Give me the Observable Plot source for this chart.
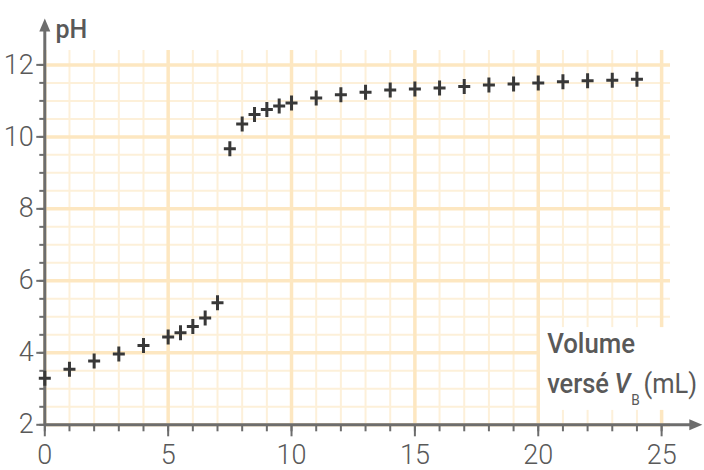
<!DOCTYPE html>
<html>
<head>
<meta charset="utf-8">
<script src="https://cdn.jsdelivr.net/npm/d3@7"></script>
<script src="https://cdn.jsdelivr.net/npm/@observablehq/plot@0.6"></script>
<style>
  html, body { margin: 0; padding: 0; background: #fff; }
  #chart svg { display: block; }
</style>
</head>
<body>
<div id="chart"></div>
<script>
// ---- data ----
const volumes = [0, 1, 2, 3, 4, 5, 5.5, 6, 6.5, 7,
                 7.5, 8, 8.5, 9, 9.5, 10,
                 11, 12, 13, 14, 15, 16, 17, 18, 19, 20, 21, 22, 23, 24];
const phValues = [3.29, 3.54, 3.77, 3.97, 4.2, 4.44, 4.56, 4.73, 4.97, 5.39,
                  9.67, 10.36, 10.62, 10.76, 10.86, 10.94,
                  11.08, 11.17, 11.24, 11.30, 11.33, 11.36, 11.40, 11.44, 11.47, 11.50, 11.53, 11.56, 11.57, 11.60];

// ---- ticks / labels ----
const xMajorTicks = [0, 5, 10, 15, 20, 25];
const xMinorTicks = [0,1,2,3,4,5,6,7,8,9,10,11,12,13,14,15,16,17,18,19,20,21,22,23,24,25];
const yMajorTicks = [2, 4, 6, 8, 10, 12];
const yMinorTicks = [2,2.5,3,3.5,4,4.5,5,5.5,6,6.5,7,7.5,8,8.5,9,9.5,10,10.5,11,11.5,12];
const yTitle = "pH";
const xTitleLine1 = "Volume";
const xTitleLine2Parts = ["versé", "V", "B", "(mL)"];

// ---- layout helpers (domain extents of the printed grid) ----
const xDomain = [0, 25.36];
const yDomain = [2, 12.4];
const axisEnds = { xArrow: 26.65, yArrow: 13.29 };
const labelBox = { x1: 20.09, x2: 26.7, y1: 2.4, y2: 4.7 };
const titlePos = { pH: [0.43, 12.76], line1: [20.36, 3.99], line2: [20.36, 2.88] };

const data = volumes.map((v, i) => ({ v, ph: phValues[i] }));

const FONT = 'Roboto, "Noto Sans", sans-serif';
const GRID_MAJOR = "#fde7c1";
const GRID_MINOR = "#fdf0d9";
const AXIS = "#6d6d6d";
const TEXT = "#595959";
const MARK = "#383838";

const crossSymbol = {
  draw(ctx) {
    ctx.moveTo(-6, 0); ctx.lineTo(6, 0);
    ctx.moveTo(0, -7.5); ctx.lineTo(0, 7.5);
  }
};
const arrowUp = {
  draw(ctx) { ctx.moveTo(0, 0); ctx.lineTo(-5.5, 13); ctx.lineTo(5.5, 13); ctx.closePath(); }
};
const arrowRight = {
  draw(ctx) { ctx.moveTo(0, 0); ctx.lineTo(-13, -5.5); ctx.lineTo(-13, 5.5); ctx.closePath(); }
};

const svg = Plot.plot({
  width: 704,
  height: 470,
  marginLeft: 44.3,
  marginRight: 34,
  marginTop: 50,
  marginBottom: 45.7,
  style: { fontFamily: FONT, background: "#fff", overflow: "visible" },
  x: { domain: xDomain, axis: null, label: null },
  y: { domain: yDomain, axis: null, label: null },
  marks: [
    // grid: minor lines
    Plot.ruleX(xMinorTicks.filter(d => d % 5 !== 0), { y1: yDomain[0], y2: yDomain[1], stroke: GRID_MINOR, strokeWidth: 2 }),
    Plot.ruleY(yMinorTicks.filter(d => d % 2 !== 0), { x1: xDomain[0], x2: xDomain[1], stroke: GRID_MINOR, strokeWidth: 2 }),
    // grid: major lines
    Plot.ruleX(xMajorTicks, { y1: yDomain[0], y2: yDomain[1], stroke: GRID_MAJOR, strokeWidth: 3.5 }),
    Plot.ruleY(yMajorTicks, { x1: xDomain[0], x2: xDomain[1], stroke: GRID_MAJOR, strokeWidth: 3.5 }),
    // white box behind the x title
    Plot.rect([labelBox], { x1: "x1", x2: "x2", y1: "y1", y2: "y2", fill: "#fff" }),
    // axis ticks
    Plot.axisX({ ticks: xMinorTicks, tickSize: 7, tickFormat: () => "", stroke: AXIS, strokeWidth: 2, label: null }),
    Plot.axisX({ ticks: xMajorTicks, tickSize: 12, tickPadding: 8, stroke: AXIS, strokeWidth: 2, fill: TEXT, fontSize: 27, fontWeight: 300, fontFamily: FONT, label: null }),
    Plot.axisY({ ticks: yMinorTicks, tickSize: 5, tickFormat: () => "", stroke: AXIS, strokeWidth: 2, label: null }),
    Plot.axisY({ ticks: yMajorTicks, tickSize: 8, tickPadding: 3, stroke: AXIS, strokeWidth: 2, fill: TEXT, fontSize: 27, fontWeight: 300, fontFamily: FONT, label: null }),
    // axis lines with arrows
    Plot.ruleY([yDomain[0]], { x1: xDomain[0], x2: axisEnds.xArrow - 0.4, stroke: AXIS, strokeWidth: 3 }),
    Plot.ruleX([xDomain[0]], { y1: yDomain[0], y2: axisEnds.yArrow - 0.3, stroke: AXIS, strokeWidth: 3 }),
    Plot.dot([[axisEnds.xArrow, yDomain[0]]], { x: d => d[0], y: d => d[1], symbol: arrowRight, fill: AXIS, stroke: "none", r: 7 }),
    Plot.dot([[xDomain[0], axisEnds.yArrow]], { x: d => d[0], y: d => d[1], symbol: arrowUp, fill: AXIS, stroke: "none", r: 7 }),
    // data points
    Plot.dot(data, { x: "v", y: "ph", symbol: crossSymbol, fill: "none", stroke: MARK, strokeWidth: 3, r: 7 }),
    // titles
    Plot.text([yTitle], { x: titlePos.pH[0], y: titlePos.pH[1], text: d => d, textAnchor: "start", lineAnchor: "bottom", fontSize: 25, fontWeight: 500, fill: TEXT, fontFamily: FONT }),
    Plot.text([xTitleLine1], { x: titlePos.line1[0], y: titlePos.line1[1], text: d => d, textAnchor: "start", lineAnchor: "bottom", fontSize: 28, fontWeight: 500, fill: TEXT, fontFamily: FONT }),
    Plot.text([xTitleLine2Parts.join("")], { x: titlePos.line2[0], y: titlePos.line2[1], text: d => d, textAnchor: "start", lineAnchor: "bottom", fontSize: 28, fontWeight: 500, fill: TEXT, fontFamily: FONT })
  ]
});

// rich text for the x title (italic V, subscript B, regular "(mL)"), squeezed to the reference widths
const joined = xTitleLine2Parts.join("");
d3.select(svg).selectAll("text").filter(function () { return this.textContent === xTitleLine1; })
  .attr("textLength", 88).attr("lengthAdjust", "spacingAndGlyphs");
d3.select(svg).selectAll("text").filter(function () { return this.textContent === joined; }).each(function () {
  const t = d3.select(this);
  t.text(null);
  t.append("tspan").text(xTitleLine2Parts[0]);
  t.append("tspan").attr("font-style", "italic").attr("dx", 6).text(xTitleLine2Parts[1]);
  t.append("tspan").attr("font-size", 15).attr("font-weight", "normal").attr("dy", 12).attr("dx", 1).text(xTitleLine2Parts[2]);
  t.append("tspan").attr("font-weight", 400).attr("dy", -12).attr("dx", 4).text(xTitleLine2Parts[3]);
  t.attr("textLength", 150).attr("lengthAdjust", "spacingAndGlyphs");
});

document.getElementById("chart").appendChild(svg);
</script>
</body>
</html>
